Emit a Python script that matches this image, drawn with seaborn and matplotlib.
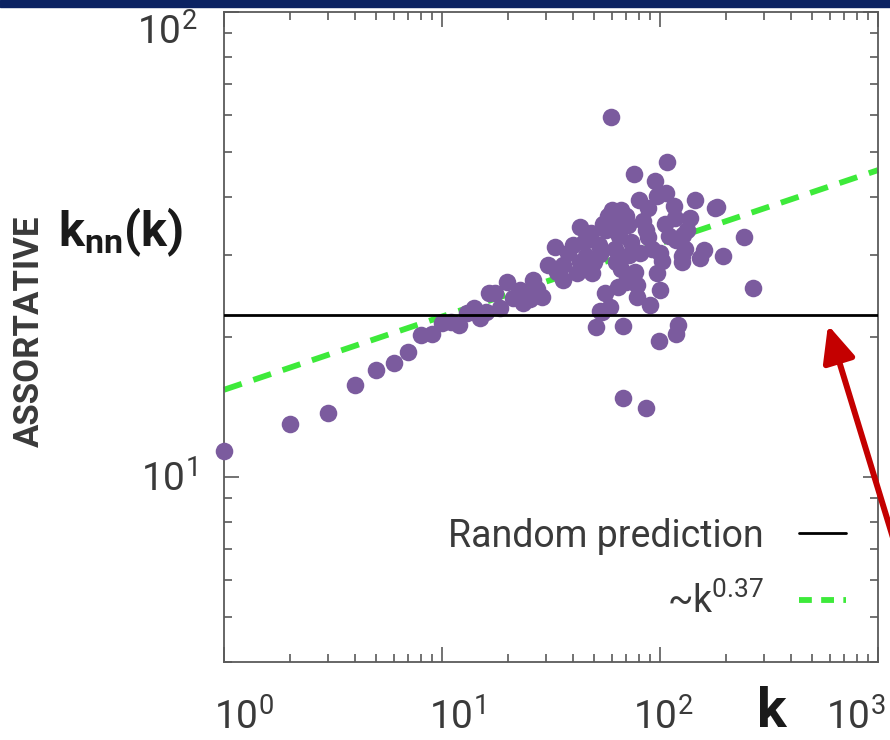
import numpy as np
import pandas as pd
import matplotlib
matplotlib.use('Agg')
import matplotlib.pyplot as plt
import matplotlib.transforms as mtransforms
from matplotlib.lines import Line2D
from matplotlib.patches import Rectangle
import seaborn as sns

sns.set_theme(style='white')
plt.rcParams['font.family'] = ['Roboto', 'DejaVu Sans']
plt.rcParams['mathtext.fontset'] = 'custom'
plt.rcParams['mathtext.rm'] = 'Roboto'
plt.rcParams['mathtext.it'] = 'Roboto:italic'
plt.rcParams['mathtext.bf'] = 'Roboto:bold'

# degree k and average neighbour degree knn(k)
k_vals = [1.0, 2.0, 3.0, 4.0, 5.0, 6.0, 7.0, 8.0, 9.0, 10.0, 11.0, 12.0, 13.0, 14.0,
          15.0, 16.0, 16.5, 17.5, 18.4, 19.8, 21.2, 22.8, 23.5, 25.3, 26.1, 27.3,
          28.7, 30.5, 33.0, 33.6, 35.9, 35.9, 37.8, 39.8, 41.5, 43.0, 43.0, 46.0,
          48.8, 50.0, 50.8, 52.6, 52.9, 53.0, 54.0, 55.7, 56.6, 57.6, 58.9, 59.6,
          60.0, 62.9, 63.0, 64.0, 65.0, 67.6, 68.0, 70.0, 70.0, 71.0, 73.5, 76.0,
          76.6, 78.5, 78.5, 80.0, 81.0, 86.0, 86.0, 88.0, 88.0, 90.0, 94.8, 97.0,
          97.0, 98.6, 100.0, 100.0, 102.0, 107.0, 107.7, 116.0, 117.0, 119.0, 119.0,
          121.0, 126.0, 126.0, 127.0, 133.0, 138.0, 144.0, 153.0, 160.0, 178.0,
          183.0, 194.0, 242.0, 267.0,
          45.0, 48.0, 55.0, 62.0, 66.0, 72.0, 84.0, 92.0, 105.0, 110.0, 66.0, 130.0]
knn_vals = [11.4, 13.0, 13.7, 15.8, 17.0, 17.6, 18.6, 20.2, 20.3, 21.4, 21.5, 21.2, 22.5, 23.1,
            22.0, 22.6, 24.9, 24.9, 23.1, 26.2, 24.3, 25.3, 23.7, 24.1, 26.5, 25.4,
            24.4, 28.6, 31.2, 27.6, 28.6, 26.5, 30.3, 31.5, 27.5, 29.0, 34.4, 29.8,
            27.5, 29.0, 21.0, 31.6, 22.7, 30.1, 22.6, 24.9, 34.0, 36.4, 23.2, 59.6,
            37.6, 29.0, 34.6, 25.6, 32.9, 21.1, 14.8, 36.4, 26.3, 34.9, 32.0, 44.8,
            27.6, 25.9, 24.4, 39.5, 30.3, 34.0, 14.1, 37.8, 32.8, 23.4, 43.3, 40.3,
            27.5, 19.6, 30.3, 25.3, 29.1, 40.9, 47.6, 38.3, 36.0, 32.4, 20.3,
            21.2, 29.9, 29.0, 33.2, 34.0, 36.0, 39.5, 29.6, 30.8, 37.8,
            38.0, 29.9, 32.8, 25.5,
            32.0, 33.5, 35.0, 31.0, 37.5, 30.0, 35.5, 31.0, 35.0, 33.0, 28.0, 31.0]

# random prediction and power-law fit (end points)
rand_k = [1, 1000]
rand_knn = [22.3, 22.3]
fit_k = [1, 1000]
fit_knn = [15.4, 45.7]

xtick_vals = [1, 10, 100, 1000]
xtick_labels = [r'$10^{0}$', r'$10^{1}$', r'$10^{2}$', r'$10^{3}$']
ytick_vals = [10, 100]
ytick_labels = [r'$10^{1}$', r'$10^{2}$']

purple = '#7b5b9e'
green = '#3dea3a'
tick_col = '#5a5a5a'
text_col = '#3a3a3a'

df = pd.DataFrame({'k': k_vals, 'knn': knn_vals})

fig = plt.figure(figsize=(8.9, 7.4), dpi=100)
ax = fig.add_axes([224 / 890, 78 / 740, 654 / 890, 650 / 740])

sns.lineplot(x=fit_k, y=fit_knn, color=green, lw=4.2, linestyle=(0, (3.2, 2.1)),
             ax=ax, zorder=2, clip_on=False)
sns.scatterplot(data=df, x='k', y='knn', color=purple, s=160, linewidth=0,
                ax=ax, zorder=3, clip_on=False)
sns.lineplot(x=rand_k, y=rand_knn, color='black', lw=2.0, ax=ax, zorder=4)

ax.set_xscale('log')
ax.set_yscale('log')
ax.set_xlim(1, 1000)
ax.set_ylim(4, 100)
ax.set_xlabel('')
ax.set_ylabel('')
ax.set_facecolor('white')
for sp in ax.spines.values():
    sp.set_color(tick_col)
    sp.set_linewidth(1.3)
ax.tick_params(which='both', direction='in', top=True, right=True, bottom=True, left=True,
               colors=tick_col, width=1.2, labelleft=False, labelbottom=False)
ax.tick_params(which='major', length=11)
ax.tick_params(which='minor', length=6)

# tick labels, placed off the axes like in the original slide
xoff = [20, 15, 3, -22]
xtrans = mtransforms.blended_transform_factory(ax.transData, ax.transAxes)
for v, lab, dx in zip(xtick_vals, xtick_labels, xoff):
    tr = mtransforms.offset_copy(xtrans, fig=fig, x=dx, y=0, units='dots')
    ax.text(v, -0.1046, lab, transform=tr, ha='center', va='baseline',
            fontsize=28, color=text_col, clip_on=False)
yoff = [-15, -33]
ytrans = mtransforms.blended_transform_factory(ax.transAxes, ax.transData)
for v, lab, dy in zip(ytick_vals, ytick_labels, yoff):
    tr = mtransforms.offset_copy(ytrans, fig=fig, x=0, y=dy, units='dots')
    ax.text(-0.0413, v, lab, transform=tr, ha='right', va='baseline',
            fontsize=28, color=text_col, clip_on=False)

# legend with the line samples on the right
handles = [Line2D([], [], color='black', lw=2.0),
           Line2D([], [], color=green, lw=4.2, linestyle=(0, (2.2, 1.6)))]
labels = ['Random prediction', '~k$^{0.37}$']
leg = ax.legend(handles, labels, loc='lower right', bbox_to_anchor=(846 / 890, 119 / 740),
                bbox_transform=fig.transFigure, frameon=False, markerfirst=False,
                fontsize=27, handlelength=1.25, handletextpad=0.95, labelspacing=0.75,
                borderpad=0, borderaxespad=0)
for t in leg.get_texts():
    t.set_color(text_col)

fig.text(121 / 890, 1 - 232 / 740, r'$\mathbf{k_{nn}(k)}$', fontsize=35,
         ha='center', va='center', color='#1a1a1a')
fig.text(772 / 890, 1 - 712 / 740, 'k', fontsize=40, fontweight='bold',
         ha='center', va='center', color='#1a1a1a')
fig.text(29 / 890, 1 - 331 / 740, 'ASSORTATIVE', rotation=90, fontsize=25,
         fontweight='bold', ha='center', va='center', color=text_col)

# slide header bar and red pointer arrow
fig.add_artist(Rectangle((0, 1 - 7 / 740), 1, 7 / 740, transform=fig.transFigure,
                         color='#0b2262', zorder=10))
ax.annotate('', xy=(828, 740 - 325), xycoords='figure pixels',
            xytext=(912, 740 - 600), textcoords='figure pixels',
            arrowprops=dict(arrowstyle='-|>,head_width=0.45,head_length=1.0',
                            color='#c40000', lw=4.3, mutation_scale=22,
                            shrinkA=0, shrinkB=0))

fig.savefig('out.png', dpi=100)
